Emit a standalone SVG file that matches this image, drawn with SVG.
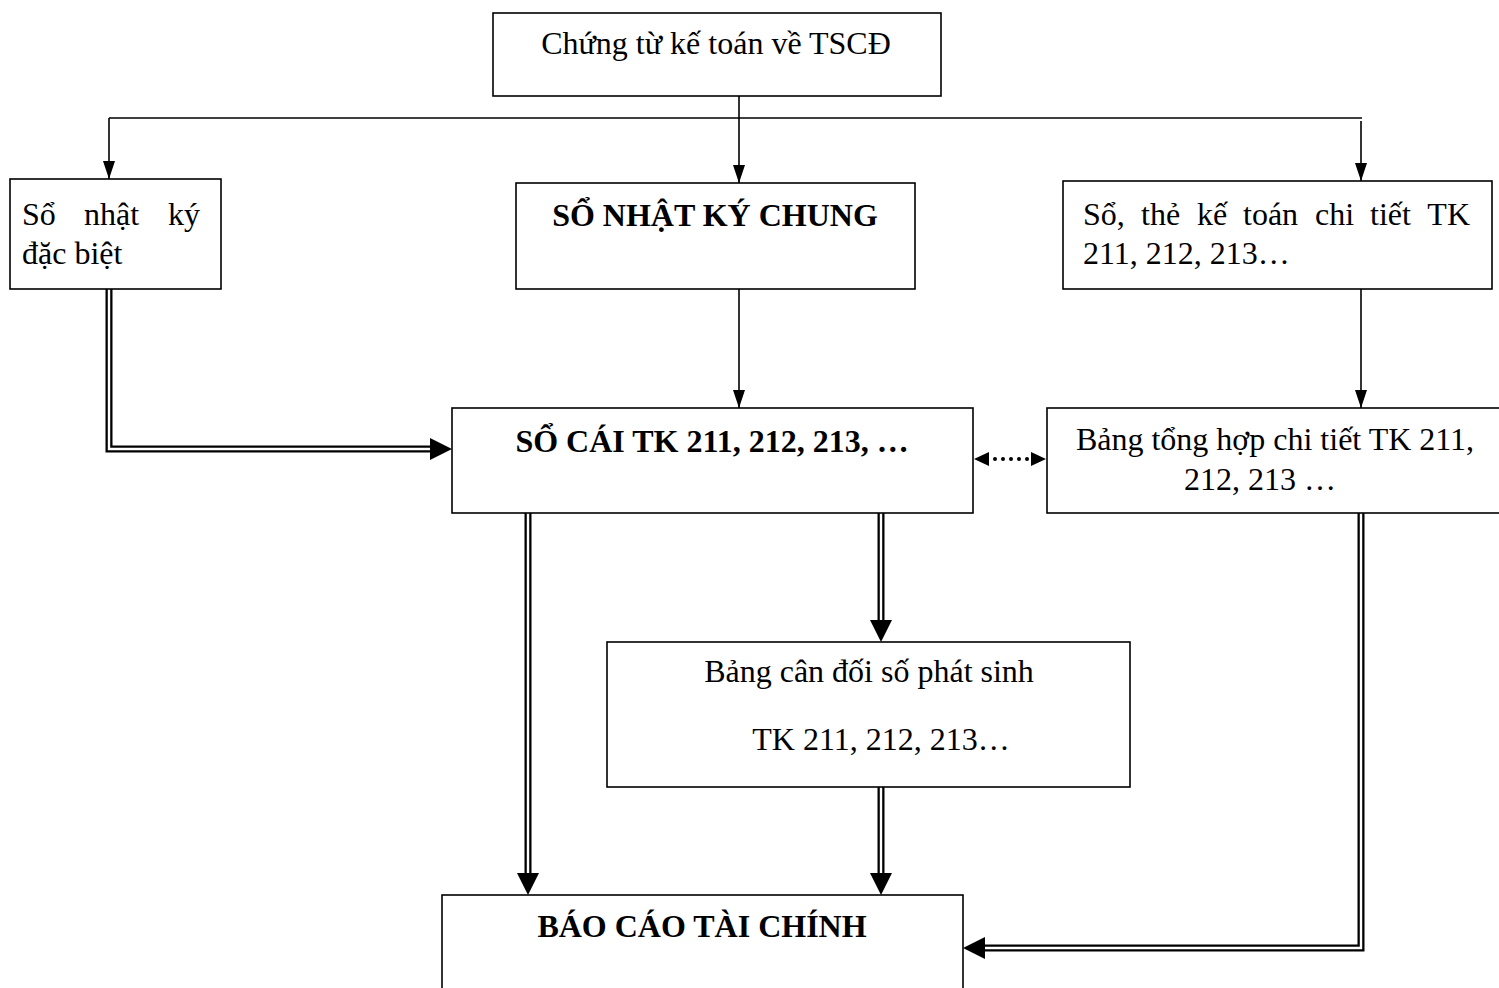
<svg xmlns="http://www.w3.org/2000/svg" width="1499" height="988" viewBox="0 0 1499 988">
<style>
  .box{fill:#fff;stroke:#000;stroke-width:1.6}
  .t{font-family:"Liberation Serif","Times New Roman",serif;font-size:32px;fill:#000}
  .b{font-weight:bold}
  .mid{text-anchor:middle}
  .end{text-anchor:end}
  .ln{fill:none;stroke:#000;stroke-width:1.6}
  .dOut{fill:none;stroke:#000;stroke-width:7;stroke-linejoin:miter}
  .dIn{fill:none;stroke:#fff;stroke-width:2.4;stroke-linejoin:miter}
  .head{fill:#000}
  .dots{fill:none;stroke:#000;stroke-width:4;stroke-linecap:round;stroke-dasharray:0 8}
</style>
<defs>
  <marker id="arr" markerUnits="userSpaceOnUse" viewBox="0 0 18 12" markerWidth="18" markerHeight="12" refX="18" refY="6" orient="auto">
    <path d="M0,0 L18,6 L0,12 Z" fill="#000"/>
  </marker>
</defs>
<rect width="1499" height="988" fill="#fff"/>

<!-- connectors -->
<g id="connectors">
  <!-- single-line flows from the source documents -->
  <path class="ln" d="M109,118 H1362"/>
  <path class="ln" d="M739,96 V183" marker-end="url(#arr)"/>
  <path class="ln" d="M109,118 V179" marker-end="url(#arr)"/>
  <path class="ln" d="M1361,121 V181" marker-end="url(#arr)"/>
  <path class="ln" d="M739,289 V408" marker-end="url(#arr)"/>
  <path class="ln" d="M1361,289 V408" marker-end="url(#arr)"/>

  <!-- dotted two-way reconciliation -->
  <path class="dots" d="M995,459 H1028"/>
  <polygon class="head" points="974,459 989,452 989,466"/>
  <polygon class="head" points="1046,459 1031,452 1031,466"/>

  <!-- double-line flows -->
  <path class="dOut" d="M109,289 V449 H431"/>
  <path class="dIn" d="M109,289 V449 H431"/>
  <polygon class="head" points="452,449 430,438 430,460"/>

  <path class="dOut" d="M528,513 V874"/>
  <path class="dIn" d="M528,513 V874"/>
  <polygon class="head" points="528,895 517,873 539,873"/>

  <path class="dOut" d="M881,513 V621"/>
  <path class="dIn" d="M881,513 V621"/>
  <polygon class="head" points="881,642 870,620 892,620"/>

  <path class="dOut" d="M881,787 V874"/>
  <path class="dIn" d="M881,787 V874"/>
  <polygon class="head" points="881,895 870,873 892,873"/>

  <path class="dOut" d="M1361,513 V948 H984"/>
  <path class="dIn" d="M1361,513 V948 H984"/>
  <polygon class="head" points="963,948 985,937 985,959"/>
</g>

<!-- nodes -->
<g id="chung-tu">
  <rect class="box" x="493" y="13" width="448" height="83"/>
  <text class="t mid" x="716" y="54">Chứng từ kế toán về TSCĐ</text>
</g>

<g id="nhat-ky-dac-biet">
  <rect class="box" x="10" y="179" width="211" height="110"/>
  <text class="t" y="225"><tspan x="22">Sổ</tspan><tspan x="84">nhật</tspan><tspan x="200" class="end">ký</tspan></text>
  <text class="t" x="22" y="264">đặc biệt</text>
</g>

<g id="nhat-ky-chung">
  <rect class="box" x="516" y="183" width="399" height="106"/>
  <text class="t b mid" x="715" y="226">SỔ NHẬT KÝ CHUNG</text>
</g>

<g id="so-the-chi-tiet">
  <rect class="box" x="1063" y="181" width="429" height="108"/>
  <text class="t" y="225"><tspan x="1083">Sổ,</tspan><tspan x="1141">thẻ</tspan><tspan x="1197">kế</tspan><tspan x="1243">toán</tspan><tspan x="1315">chi</tspan><tspan x="1370">tiết</tspan><tspan x="1470" class="end">TK</tspan></text>
  <text class="t" x="1083" y="264">211, 212, 213…</text>
</g>

<g id="so-cai">
  <rect class="box" x="452" y="408" width="521" height="105"/>
  <text class="t b mid" x="712" y="452">SỔ CÁI TK 211, 212, 213, …</text>
</g>

<g id="tong-hop-chi-tiet">
  <rect class="box" x="1047" y="408" width="462" height="105"/>
  <text class="t mid" x="1275" y="450">Bảng tổng hợp chi tiết TK 211,</text>
  <text class="t mid" x="1260" y="490">212, 213 …</text>
</g>

<g id="can-doi-phat-sinh">
  <rect class="box" x="607" y="642" width="523" height="145"/>
  <text class="t mid" x="869" y="682">Bảng cân đối số phát sinh</text>
  <text class="t mid" x="881" y="750">TK 211, 212, 213…</text>
</g>

<g id="bao-cao-tai-chinh">
  <rect class="box" x="442" y="895" width="521" height="100"/>
  <text class="t b mid" x="702" y="937">BÁO CÁO TÀI CHÍNH</text>
</g>
</svg>
